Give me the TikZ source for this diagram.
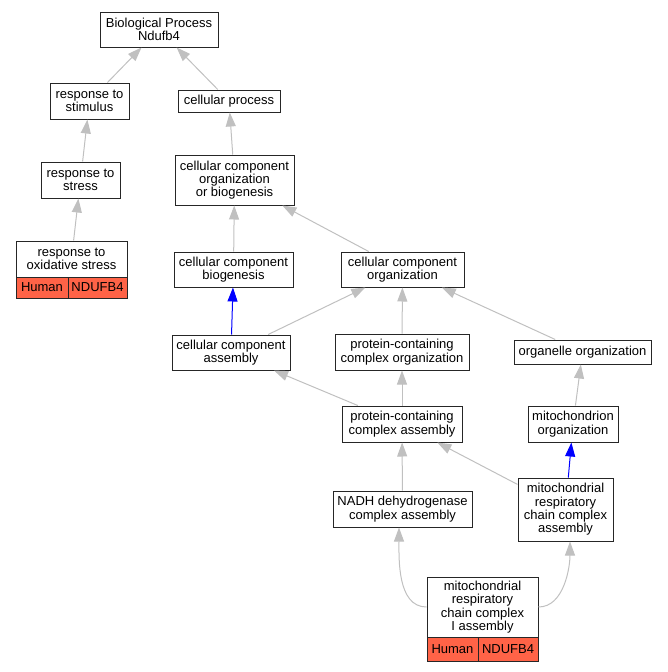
\documentclass[tikz,border=0pt]{standalone}
\usepackage{fontspec}
\setmainfont{Liberation Sans}
\usetikzlibrary{arrows.meta,calc}
\definecolor{edgegray}{HTML}{C0C0C0}
\definecolor{hitred}{HTML}{FF6347}
\tikzset{
  box/.style={draw=black!85, line width=1pt, fill=white, inner sep=0pt, align=center,
    font=\fontsize{13}{13.3}\selectfont},
  cell/.style={box, fill=hitred},
  isa/.style={draw=edgegray, line width=1pt, -{Triangle[width=10pt,length=14pt]}},
  partof/.style={draw=blue, line width=1pt, -{Triangle[width=10pt,length=14pt]}},
}
\begin{document}
\begin{tikzpicture}[x=1pt,y=-1pt]
\useasboundingbox (0,0) rectangle (667,672);
% nodes
\node[box, minimum width=118pt, minimum height=35pt] (bp) at (159,29.5) {Biological Process\\Ndufb4};
\node[box, minimum width=79pt, minimum height=36pt] (rts) at (89.5,101) {response to\\stimulus};
\node[box, minimum width=102pt, minimum height=22pt] (cp) at (229,101) {cellular process};
\node[box, minimum width=79pt, minimum height=36pt] (rtst) at (80.5,180) {response to\\stress};
\node[box, minimum width=119pt, minimum height=50pt] (ccob) at (234.5,180) {cellular component\\organization\\or biogenesis};
\node[box, minimum width=111pt, minimum height=36pt] (rtos) at (71.5,259) {response to\\oxidative stress};
\node[cell, minimum width=52pt, minimum height=21pt] (rtosh) at (42,287.5) {Human};
\node[cell, minimum width=59pt, minimum height=21pt] (rtosg) at (97.5,287.5) {NDUFB4};
\node[box, minimum width=119pt, minimum height=35pt] (ccb) at (233.5,269.5) {cellular component\\biogenesis};
\node[box, minimum width=123pt, minimum height=35pt] (cco) at (402.5,269.5) {cellular component\\organization};
\node[box, minimum width=118pt, minimum height=35pt] (cca) at (231,352.5) {cellular component\\assembly};
\node[box, minimum width=134pt, minimum height=36pt] (pcco) at (402,352) {protein-containing\\complex organization};
\node[box, minimum width=137pt, minimum height=24pt] (oo) at (582.5,352) {organelle organization};
\node[box, minimum width=120pt, minimum height=36pt] (pcca) at (402,424) {protein-containing\\complex assembly};
\node[box, minimum width=90pt, minimum height=36pt] (mo) at (573,424) {mitochondrion\\organization};
\node[box, minimum width=139pt, minimum height=36pt] (nadh) at (402.5,509) {NADH dehydrogenase\\complex assembly};
\node[box, minimum width=95pt, minimum height=63pt] (mrcca) at (565.5,509.5) {mitochondrial\\respiratory\\chain complex\\assembly};
\node[box, minimum width=111pt, minimum height=60pt] (mrcc) at (482.5,607) {mitochondrial\\respiratory\\chain complex\\I assembly};
\node[cell, minimum width=51pt, minimum height=24pt] (mrcch) at (452.5,649) {Human};
\node[cell, minimum width=60pt, minimum height=24pt] (mrccg) at (508,649) {NDUFB4};
% edges
\draw[isa] (rts) -- (bp);
\draw[isa] (cp) -- (bp);
\draw[isa] (rtst) -- (rts);
\draw[isa] (ccob) -- (cp);
\draw[isa] (rtos) -- (rtst);
\draw[isa] (ccb) -- (ccob);
\draw[isa] (cco) -- (ccob);
\draw[partof] (cca) -- (ccb);
\draw[isa] (cca) -- (cco);
\draw[isa] (pcco) -- (cco);
\draw[isa] (oo) -- (cco);
\draw[isa] (pcca) -- (pcco);
\draw[isa] (pcca) -- (cca);
\draw[isa] (mo) -- (oo);
\draw[isa] (nadh) -- (pcca);
\draw[isa] (mrcca) -- (pcca);
\draw[partof] (mrcca) -- (mo);
\draw[isa] (mrcc.west) to[out=180,in=-90,looseness=0.9] ($(nadh.south)+(-3.5,0)$);
\draw[isa] (mrcc.east) to[out=0,in=-90,looseness=0.9] ($(mrcca.south)+(4.5,0)$);
\end{tikzpicture}
\end{document}
